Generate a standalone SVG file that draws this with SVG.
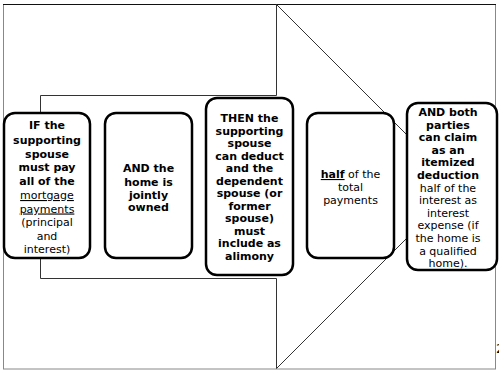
<svg xmlns="http://www.w3.org/2000/svg" width="499" height="373" viewBox="0 0 499 373">
<style>
.node{fill:#fff;stroke:#000;stroke-width:2.5}
text{font-family:"DejaVu Sans","Liberation Sans",sans-serif;font-size:11px;fill:#000;text-anchor:middle}
.b{font-weight:bold}
.u{text-decoration:underline}
</style>
<rect width="499" height="373" fill="#fff"/>
<g id="frame">
<rect x="3.5" y="4.5" width="492" height="364.5" fill="none" stroke="#888" stroke-width="1"/>
<line x1="3" y1="4.5" x2="496" y2="4.5" stroke="#111" stroke-width="1"/>
</g>
<g id="connectors">
<polygon points="40.5,95.5 276.5,95.5 276.5,4.5 458.5,186.5 276.5,368.5 276.5,278.5 40.5,278.5" fill="none" stroke="#333" stroke-width="1"/>
</g>
<g id="node1">
<rect class="node" x="4" y="113" width="86" height="145" rx="11"/>
<text x="47" y="129" class="b">IF the</text>
<text x="47" y="143.5" class="b">supporting</text>
<text x="47" y="157.5" class="b">spouse</text>
<text x="47" y="171" class="b">must pay</text>
<text x="47" y="185" class="b">all of the</text>
<text x="47" y="199" class="u">mortgage</text>
<text x="47" y="212.5" class="u">payments</text>
<text x="47" y="226">(principal</text>
<text x="47" y="240">and</text>
<text x="47" y="253">interest)</text>
</g>
<g id="node2">
<rect class="node" x="105" y="113" width="87" height="145" rx="11"/>
<text x="148.5" y="172" class="b">AND the</text>
<text x="148.5" y="185.5" class="b">home is</text>
<text x="148.5" y="199" class="b">jointly</text>
<text x="148.5" y="210.5" class="b">owned</text>
</g>
<g id="node3">
<rect class="node" x="206" y="98" width="87" height="177" rx="11"/>
<text x="249.5" y="122" class="b">THEN the</text>
<text x="249.5" y="134.5" class="b">supporting</text>
<text x="249.5" y="147" class="b">spouse</text>
<text x="249.5" y="159.5" class="b">can deduct</text>
<text x="249.5" y="172" class="b">and the</text>
<text x="249.5" y="184.5" class="b">dependent</text>
<text x="249.5" y="197" class="b">spouse (or</text>
<text x="249.5" y="209.5" class="b">former</text>
<text x="249.5" y="222" class="b">spouse)</text>
<text x="249.5" y="234.5" class="b">must</text>
<text x="249.5" y="247" class="b">include as</text>
<text x="249.5" y="259.5" class="b">alimony</text>
</g>
<g id="node4">
<rect class="node" x="307" y="113" width="87" height="145" rx="11"/>
<text x="350.5" y="178"><tspan class="b u">half</tspan> of the</text>
<text x="350.5" y="191">total</text>
<text x="350.5" y="204">payments</text>
</g>
<g id="node5">
<rect class="node" x="407" y="103" width="90" height="167" rx="11"/>
<text x="448" y="116" class="b">AND both</text>
<text x="448" y="128.6" class="b">parties</text>
<text x="448" y="141.2" class="b">can claim</text>
<text x="448" y="153.8" class="b">as an</text>
<text x="448" y="166.4" class="b">itemized</text>
<text x="448" y="179" class="b">deduction</text>
<text x="448" y="191.6">half of the</text>
<text x="448" y="204.2">interest as</text>
<text x="448" y="216.8">interest</text>
<text x="448" y="229.4">expense (if</text>
<text x="448" y="242">the home is</text>
<text x="448" y="254.6">a qualified</text>
<text x="448" y="267.2">home).</text>
</g>
<g id="pagenum">
<text x="496" y="353" style="text-anchor:start;font-size:13px">2</text>
</g>
</svg>
